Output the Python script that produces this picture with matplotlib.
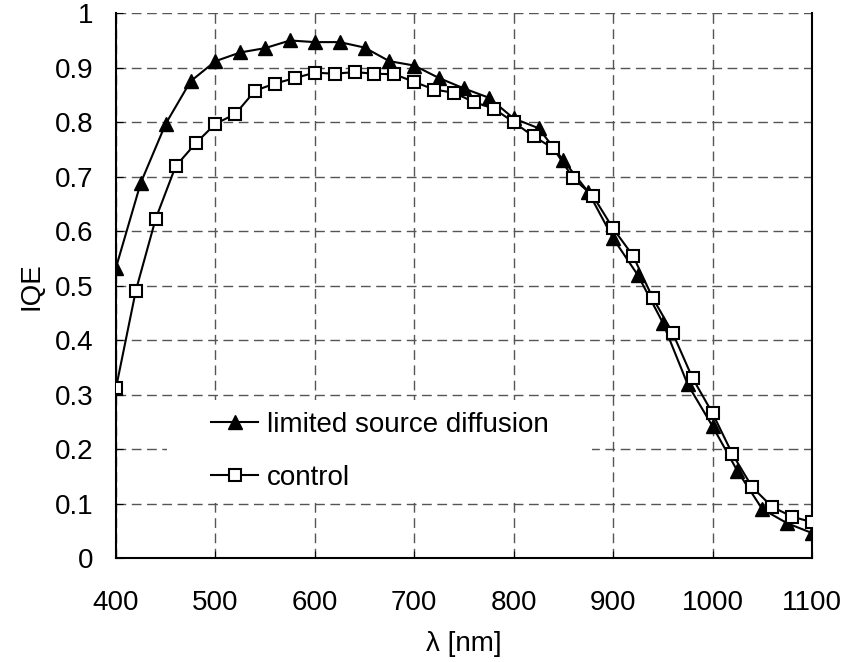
import matplotlib
matplotlib.use("Agg")
import matplotlib.pyplot as plt
from matplotlib.patches import Rectangle
from matplotlib.ticker import FuncFormatter

# limited source diffusion, every 25 nm
wl_lsd = [400, 425, 450, 475, 500, 525, 550, 575, 600, 625, 650, 675, 700,
          725, 750, 775, 800, 825, 850, 875, 900, 925, 950, 975, 1000, 1025,
          1050, 1075, 1100]
iqe_lsd = [0.533, 0.689, 0.797, 0.875, 0.912, 0.928, 0.936, 0.950, 0.947,
           0.947, 0.937, 0.912, 0.904, 0.881, 0.862, 0.845, 0.807, 0.789,
           0.730, 0.672, 0.587, 0.519, 0.432, 0.319, 0.242, 0.160, 0.090,
           0.064, 0.046]

# control, every 20 nm
wl_ctrl = [400, 420, 440, 460, 480, 500, 520, 540, 560, 580, 600, 620, 640,
           660, 680, 700, 720, 740, 760, 780, 800, 820, 840, 860, 880, 900,
           920, 940, 960, 980, 1000, 1020, 1040, 1060, 1080, 1100]
iqe_ctrl = [0.312, 0.491, 0.623, 0.719, 0.761, 0.797, 0.815, 0.858, 0.871,
            0.881, 0.891, 0.889, 0.892, 0.889, 0.888, 0.874, 0.860, 0.854,
            0.837, 0.825, 0.800, 0.774, 0.752, 0.697, 0.664, 0.605, 0.555,
            0.477, 0.413, 0.330, 0.266, 0.191, 0.130, 0.094, 0.076, 0.066]

plt.rcParams['font.family'] = ['Liberation Sans', 'DejaVu Sans']
fs = 20

fig = plt.figure(figsize=(8.44, 6.62), dpi=100)
ax = fig.add_axes([0.1374, 0.157, 0.8246, 0.823])

ax.plot(wl_lsd, iqe_lsd, color='black', lw=1.5, marker='^', ms=10.5,
        mfc='black', mec='black', label='limited source diffusion', zorder=3)
ax.plot(wl_ctrl, iqe_ctrl, color='black', lw=1.5, marker='s', ms=8,
        mfc='white', mec='black', mew=1.5, label='control', zorder=3)

ax.set_xlim(400, 1100)
ax.set_ylim(0, 1)
ax.set_xticks(range(400, 1101, 100))
ax.set_yticks([i / 10 for i in range(11)])
ax.yaxis.set_major_formatter(FuncFormatter(lambda v, p: '%g' % v))

ax.grid(True, color='#555555', linestyle=(0, (7, 4)), linewidth=1.0)
ax.set_axisbelow(True)
for s in ['left', 'bottom', 'right']:
    ax.spines[s].set_linewidth(1.5)
ax.spines['top'].set_visible(False)

ax.tick_params(axis='x', direction='in', length=5, labelsize=fs, pad=23)
ax.tick_params(axis='y', direction='in', length=5, labelsize=fs, pad=16)

ax.set_xlabel('λ [nm]', fontsize=fs, labelpad=11)
ax.set_ylabel('IQE', fontsize=fs, labelpad=8)

# white area behind the legend, hiding the grid
ax.add_patch(Rectangle((0.073, 0.11), 0.611, 0.18, transform=ax.transAxes,
                       facecolor='white', edgecolor='none', zorder=1))
ax.legend(loc='upper left', bbox_to_anchor=(0.1365, 0.268), frameon=False,
          fontsize=fs, borderpad=0, borderaxespad=0, handlelength=1.7,
          handletextpad=0.3, labelspacing=0.97)

fig.savefig('out.png', dpi=100)
